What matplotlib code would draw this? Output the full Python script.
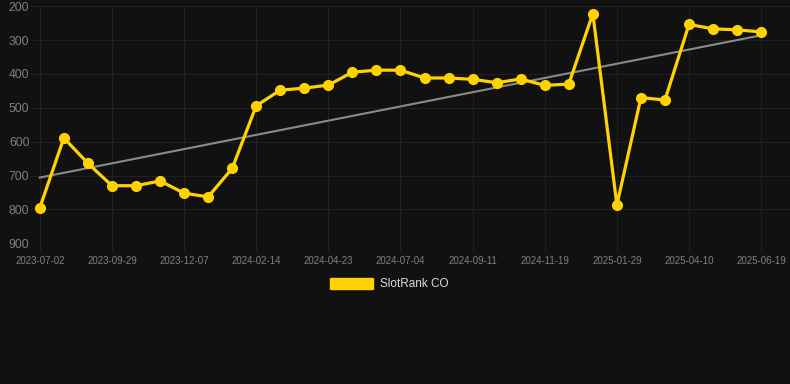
import numpy as np
import matplotlib.pyplot as plt

plt.rcParams['font.family'] = ['Liberation Sans', 'DejaVu Sans']

# SlotRank CO rank values (lower = better, y axis inverted)
ranks = [795, 589, 664, 730, 730, 716, 752, 763, 679, 494,
         448, 442, 433, 395, 389, 389, 412, 412, 416, 426,
         415, 434, 430, 222, 787, 470, 477, 254, 267, 270, 276]
tick_labels = ['2023-07-02', '2023-09-29', '2023-12-07', '2024-02-14',
               '2024-04-23', '2024-07-04', '2024-09-11', '2024-11-19',
               '2025-01-29', '2025-04-10', '2025-06-19']
y_ticks = [200, 300, 400, 500, 600, 700, 800, 900]

bg = '#111111'
yellow = '#ffd300'

x = np.arange(len(ranks))
coef = np.polyfit(x, ranks, 1)
trend = np.polyval(coef, x)

fig = plt.figure(figsize=(7.9, 3.84), dpi=100, facecolor=bg)
ax = fig.add_axes([0.039, 0.3664, 0.961, 0.6176])
ax.set_facecolor(bg)

ax.plot(x, trend, color='#8a8a8a', lw=1.5, zorder=2)
ax.plot(x, ranks, color=yellow, lw=2.3, marker='o', markersize=7,
        zorder=3, label='SlotRank CO')

ax.set_ylim(900, 200)
ax.set_xlim(-0.375, 31.2)
ax.set_yticks(y_ticks)
ax.set_xticks(x[::3])
ax.set_xticklabels(tick_labels)

ax.grid(True, color='#212121', lw=0.8)
for s in ax.spines.values():
    s.set_visible(False)
ax.tick_params(axis='y', colors='#212121', labelcolor='#808080',
               labelsize=8.8, length=0, pad=1)
ax.tick_params(axis='x', colors='#212121', labelcolor='#808080',
               labelsize=7, length=6, pad=3)

leg = fig.legend(handles=[plt.Rectangle((0, 0), 1, 1, color=yellow)],
                 labels=['SlotRank CO'], loc='center', bbox_to_anchor=(0.493, 0.26),
                 frameon=False, handlelength=3.6, handleheight=1.0,
                 handletextpad=0.6, fontsize=8.5)
for t in leg.get_texts():
    t.set_color('#dddddd')

fig.savefig('out.png', dpi=100, facecolor=bg)
